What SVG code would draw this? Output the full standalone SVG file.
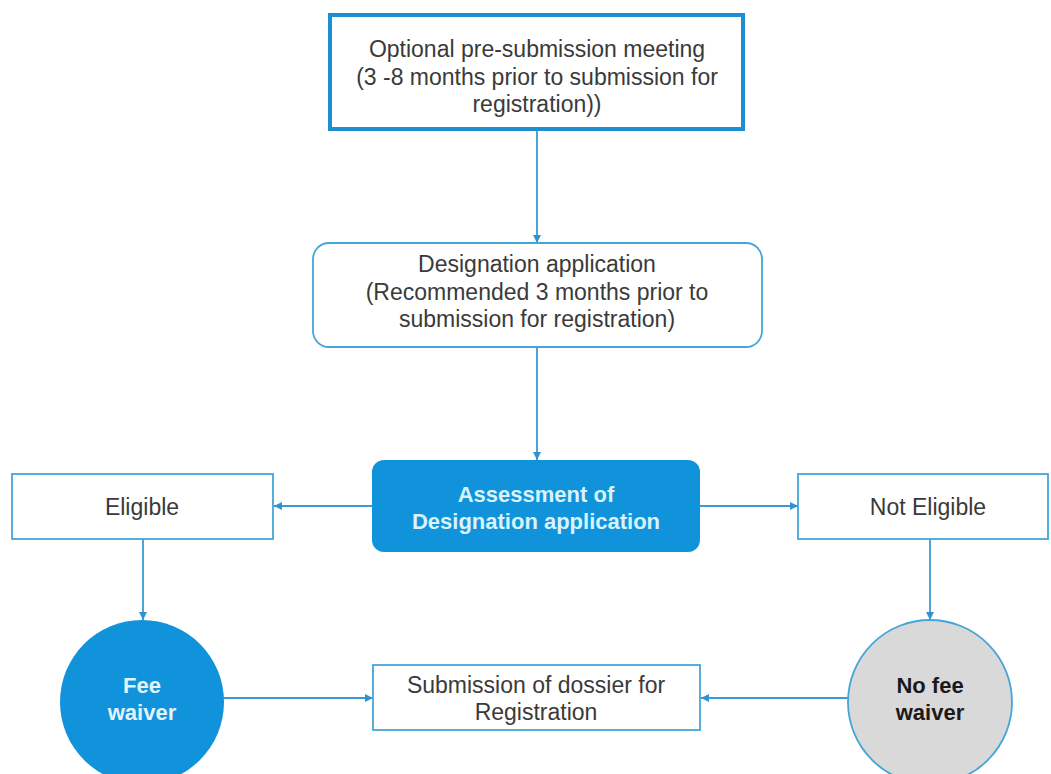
<svg xmlns="http://www.w3.org/2000/svg" width="1051" height="774" viewBox="0 0 1051 774">
<defs>
<marker id="arr" viewBox="0 0 10 10" refX="10" refY="5" markerWidth="8" markerHeight="8" markerUnits="userSpaceOnUse" orient="auto">
<path d="M0,0 L10,5 L0,10 z" fill="#2f93d1"/>
</marker>
<style>
.t{font-family:"Liberation Sans",Arial,sans-serif;font-size:23px;fill:#3a3a3a;text-anchor:middle}
.b{font-family:"Liberation Sans",Arial,sans-serif;font-size:22px;font-weight:bold;text-anchor:middle}
.box{fill:#fff;stroke:#45a5d8;stroke-width:1.8}
.c{fill:none;stroke:#3a9ad5;stroke-width:1.8;marker-end:url(#arr)}
</style>
</defs>
<rect width="1051" height="774" fill="#fff"/>
<g id="connectors">
<line class="c" x1="537" y1="131" x2="537" y2="243"/>
<line class="c" x1="537" y1="347" x2="537" y2="460"/>
<line class="c" x1="372" y1="506" x2="274" y2="506"/>
<line class="c" x1="700" y1="506" x2="798" y2="506"/>
<line class="c" x1="143" y1="539" x2="143" y2="620"/>
<line class="c" x1="930" y1="539" x2="930" y2="620"/>
<line class="c" x1="223" y1="698" x2="373" y2="698"/>
<line class="c" x1="848" y1="698" x2="701" y2="698"/>
</g>
<g id="premeeting">
<rect x="330" y="15" width="413" height="114" fill="#fff" stroke="#1b8fd2" stroke-width="4"/>
<text class="t" x="537" y="57">Optional pre-submission meeting</text>
<text class="t" x="537" y="85">(3 -8 months prior to submission for</text>
<text class="t" x="537" y="112">registration))</text>
</g>
<g id="designation">
<rect class="box" x="313" y="243" width="449" height="104" rx="16"/>
<text class="t" x="537" y="272">Designation application</text>
<text class="t" x="537" y="300">(Recommended 3 months prior to</text>
<text class="t" x="537" y="327">submission for registration)</text>
</g>
<g id="assessment">
<rect x="372" y="460" width="328" height="92" rx="12" fill="#1093db"/>
<text class="b" x="536" y="502" fill="#d9f3fc">Assessment of</text>
<text class="b" x="536" y="529" fill="#d9f3fc">Designation application</text>
</g>
<g id="eligible">
<rect class="box" x="12" y="474" width="261" height="65"/>
<text class="t" x="142" y="515">Eligible</text>
</g>
<g id="noteligible">
<rect class="box" x="798" y="474" width="250" height="65"/>
<text class="t" x="928" y="515">Not Eligible</text>
</g>
<g id="feewaiver">
<circle cx="142" cy="702" r="82" fill="#1093db"/>
<text class="b" x="142" y="693" fill="#e3f3fb">Fee</text>
<text class="b" x="142" y="720" fill="#e3f3fb">waiver</text>
</g>
<g id="submission">
<rect class="box" x="373" y="665" width="327" height="65"/>
<text class="t" x="536" y="693">Submission of dossier for</text>
<text class="t" x="536" y="720">Registration</text>
</g>
<g id="nofeewaiver">
<circle cx="930" cy="702" r="82" fill="#d9d9d9" stroke="#45a5d8" stroke-width="1.8"/>
<text class="b" x="930" y="693" fill="#1a1a1a">No fee</text>
<text class="b" x="930" y="720" fill="#1a1a1a">waiver</text>
</g>
</svg>
